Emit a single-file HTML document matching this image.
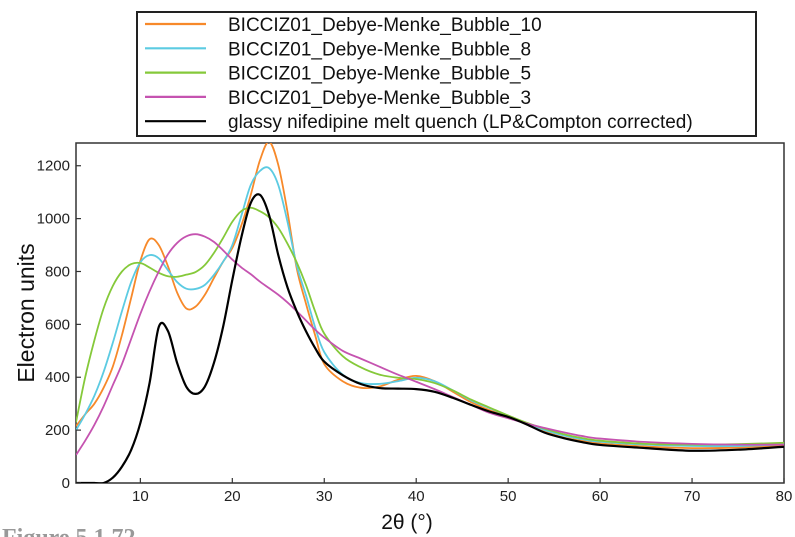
<!DOCTYPE html>
<html><head><meta charset="utf-8"><style>
html,body{margin:0;padding:0;background:#fff;}
svg{display:block;font-family:"Liberation Sans",Arial,sans-serif;}
</style></head><body>
<svg id="chart" width="795" height="537" viewBox="0 0 795 537" xmlns="http://www.w3.org/2000/svg">
<defs><clipPath id="plotclip"><rect x="76" y="143" width="708" height="340"/></clipPath></defs>
<rect x="76" y="143" width="708" height="340" fill="none" stroke="#333" stroke-width="1.5"/>
<g id="series" clip-path="url(#plotclip)"></g>
<g id="axes"></g>
<text transform="translate(34,313) rotate(-90)" text-anchor="middle" font-size="23" fill="#111">Electron units</text>
<text x="407" y="529" text-anchor="middle" font-size="21" fill="#111">2θ (°)</text>
<text x="2" y="545" font-size="24" font-weight="bold" fill="#999" font-family="Liberation Serif,serif">Figure 5.1.72</text>
<g>
<rect x="137" y="12" width="619" height="124" fill="#fff" stroke="#222" stroke-width="2"/>
<g id="legend-entries"></g>
</g>
</svg>
<script>
const xs = [3,4,5,6,7,8,9,10,11,12,13,14,15,16,17,18,19,20,21,22,23,24,25,26,27,28,29,30,32,34,36,38,40,42,44,46,48,50,52,54,56,58,60,65,70,75,80];
const orange = [215,260,300,360,440,560,700,840,922,900,820,720,660,667,711,775,837,889,976,1089,1220,1290,1203,1026,813,680,560,450,385,360,365,390,405,385,345,305,275,255,225,195,172,160,150,138,132,134,142];
const cyan = [200,260,330,420,530,650,760,835,862,850,805,760,735,734,749,787,837,900,1013,1127,1180,1191,1127,988,824,711,590,495,410,378,375,385,398,385,350,312,283,255,226,200,180,166,156,145,140,140,146];
const green = [230,400,540,660,745,800,828,832,815,795,782,780,788,798,824,870,927,988,1029,1041,1028,1005,965,905,835,750,650,565,480,437,410,398,393,378,350,315,285,255,228,205,185,170,160,148,145,147,152];
const magenta = [106,160,220,290,370,450,545,640,725,800,865,908,933,941,932,912,880,845,815,790,762,737,712,683,650,615,580,550,500,470,440,410,383,355,325,295,265,245,225,208,192,178,168,155,148,145,145];
const black = [0,0,0,0,20,62,125,227,378,590,575,454,364,337,364,454,591,768,932,1059,1090,1013,862,740,650,575,511,459,408,374,359,357,355,345,322,295,270,250,222,190,170,155,144,132,122,126,137];
const seriesNames = ["BICCIZ01_Debye-Menke_Bubble_10","BICCIZ01_Debye-Menke_Bubble_8","BICCIZ01_Debye-Menke_Bubble_5","BICCIZ01_Debye-Menke_Bubble_3","glassy nifedipine melt quench (LP&Compton corrected)"];
const xTicks = [10,20,30,40,50,60,70,80];
const yTicks = [0,200,400,600,800,1000,1200];

const NS="http://www.w3.org/2000/svg";
const X0=76,X1=784,Y0=483,Y1=143;
const xMin=3,xMax=80,yMin=0,yMax=1286;
function sx(v){return X0+(v-xMin)/(xMax-xMin)*(X1-X0);}
function sy(v){return Y0-(v-yMin)/(yMax-yMin)*(Y0-Y1);}
function smoothPath(pts){
  let d="M"+pts[0][0].toFixed(2)+","+pts[0][1].toFixed(2);
  for(let i=0;i<pts.length-1;i++){
    const p0=pts[Math.max(i-1,0)],p1=pts[i],p2=pts[i+1],p3=pts[Math.min(i+2,pts.length-1)];
    const c1x=p1[0]+(p2[0]-p0[0])/6,c1y=p1[1]+(p2[1]-p0[1])/6;
    const c2x=p2[0]-(p3[0]-p1[0])/6,c2y=p2[1]-(p3[1]-p1[1])/6;
    d+=" C"+c1x.toFixed(2)+","+c1y.toFixed(2)+" "+c2x.toFixed(2)+","+c2y.toFixed(2)+" "+p2[0].toFixed(2)+","+p2[1].toFixed(2);
  }
  return d;
}
const colors=["#f7892a","#5ccbe2","#85c93a","#c553b0","#000000"];
const seriesData=[orange,cyan,green,magenta,black];
const seriesKeys=["orange-bubble-10","cyan-bubble-8","green-bubble-5","magenta-bubble-3","black-melt-quench"];
const g=document.getElementById("series");
seriesData.forEach((arr,k)=>{
  const p=document.createElementNS(NS,"path");
  p.setAttribute("d",smoothPath(xs.map((x,i)=>[sx(x),sy(arr[i])])));
  p.setAttribute("fill","none");
  p.setAttribute("stroke",colors[k]);
  p.setAttribute("stroke-width",k===4?"2.2":"1.8");
  
  
  g.appendChild(p);
});
const ax=document.getElementById("axes");
xTicks.forEach(t=>{
  const l=document.createElementNS(NS,"line");
  l.setAttribute("x1",sx(t));l.setAttribute("x2",sx(t));l.setAttribute("y1",Y0);l.setAttribute("y2",Y0-5);
  l.setAttribute("stroke","#333");l.setAttribute("stroke-width","1.2");
  
  
  ax.appendChild(l);
  const tx=document.createElementNS(NS,"text");
  tx.setAttribute("x",sx(t));tx.setAttribute("y",501);tx.setAttribute("text-anchor","middle");
  tx.setAttribute("font-size","15");tx.setAttribute("fill","#222");
  tx.textContent=t;
  
  
  ax.appendChild(tx);
});
yTicks.forEach(t=>{
  const l=document.createElementNS(NS,"line");
  l.setAttribute("x1",X0);l.setAttribute("x2",X0+5);l.setAttribute("y1",sy(t));l.setAttribute("y2",sy(t));
  l.setAttribute("stroke","#333");l.setAttribute("stroke-width","1.2");
  
  
  ax.appendChild(l);
  const tx=document.createElementNS(NS,"text");
  tx.setAttribute("x",X0-6);tx.setAttribute("y",sy(t)+5);tx.setAttribute("text-anchor","end");
  tx.setAttribute("font-size","15");tx.setAttribute("fill","#222");
  tx.textContent=t;
  
  
  ax.appendChild(tx);
});
const lg=document.getElementById("legend-entries");
seriesNames.forEach((n,k)=>{
  const y=24+k*24.3;
  const l=document.createElementNS(NS,"line");
  l.setAttribute("x1",145);l.setAttribute("x2",206);l.setAttribute("y1",y);l.setAttribute("y2",y);
  l.setAttribute("stroke",colors[k]);l.setAttribute("stroke-width","2.2");
  
  
  lg.appendChild(l);
  const tx=document.createElementNS(NS,"text");
  tx.setAttribute("x",228);tx.setAttribute("y",y+7);
  tx.setAttribute("font-size","19");tx.setAttribute("fill","#111");
  tx.textContent=n;
  
  
  lg.appendChild(tx);
});
</script>
</body></html>
